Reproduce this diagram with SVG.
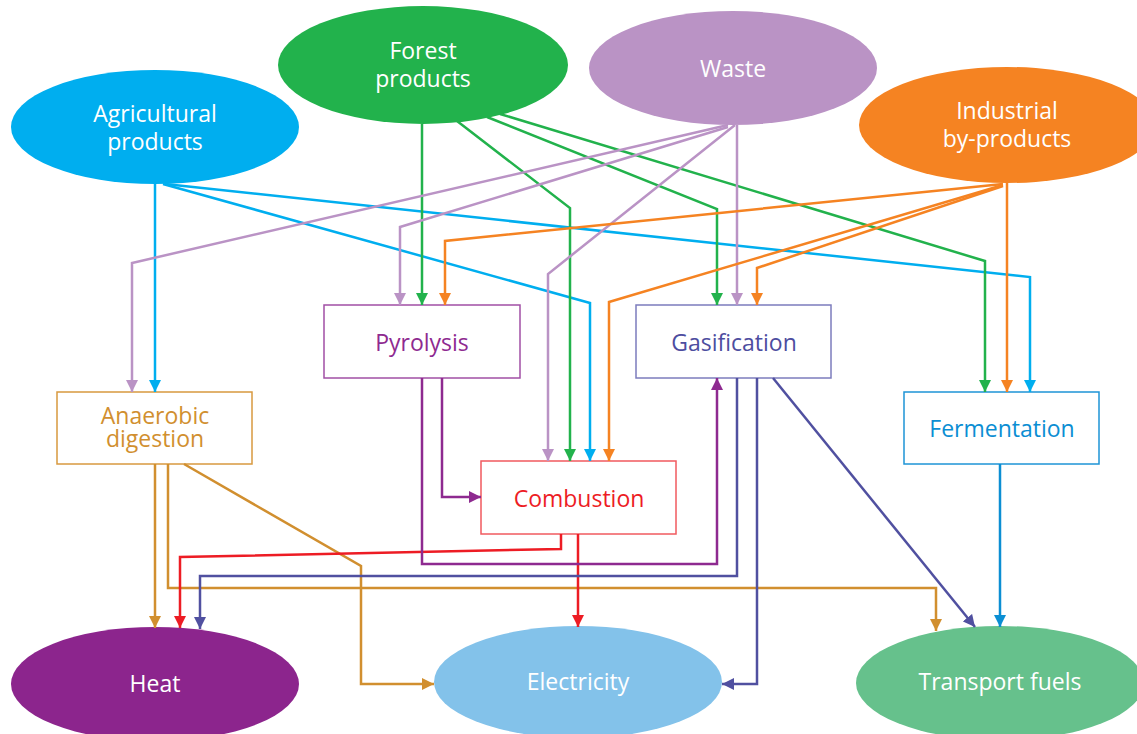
<svg xmlns="http://www.w3.org/2000/svg" width="1137" height="734" viewBox="0 0 1137 734">
<style>
.lbl{font-family:"Open Sans","DejaVu Sans",sans-serif;font-size:23px;text-anchor:middle}
.w{fill:#ffffff}
.box{fill:#ffffff;stroke-width:1.5}
.c{fill:none;stroke-width:2.5}
</style>
<defs>
<marker id="mBlue" markerUnits="userSpaceOnUse" markerWidth="12" markerHeight="12" refX="12" refY="6" orient="auto"><path d="M0,0 L12,6 L0,12 z" fill="#00AEEF"/></marker>
<marker id="mGreen" markerUnits="userSpaceOnUse" markerWidth="12" markerHeight="12" refX="12" refY="6" orient="auto"><path d="M0,0 L12,6 L0,12 z" fill="#22B24C"/></marker>
<marker id="mLilac" markerUnits="userSpaceOnUse" markerWidth="12" markerHeight="12" refX="12" refY="6" orient="auto"><path d="M0,0 L12,6 L0,12 z" fill="#BA93C5"/></marker>
<marker id="mOrange" markerUnits="userSpaceOnUse" markerWidth="12" markerHeight="12" refX="12" refY="6" orient="auto"><path d="M0,0 L12,6 L0,12 z" fill="#F58322"/></marker>
<marker id="mAna" markerUnits="userSpaceOnUse" markerWidth="12" markerHeight="12" refX="12" refY="6" orient="auto"><path d="M0,0 L12,6 L0,12 z" fill="#D18F2F"/></marker>
<marker id="mRed" markerUnits="userSpaceOnUse" markerWidth="12" markerHeight="12" refX="12" refY="6" orient="auto"><path d="M0,0 L12,6 L0,12 z" fill="#ED1C24"/></marker>
<marker id="mPur" markerUnits="userSpaceOnUse" markerWidth="12" markerHeight="12" refX="12" refY="6" orient="auto"><path d="M0,0 L12,6 L0,12 z" fill="#8E2A90"/></marker>
<marker id="mGas" markerUnits="userSpaceOnUse" markerWidth="12" markerHeight="12" refX="12" refY="6" orient="auto"><path d="M0,0 L12,6 L0,12 z" fill="#5050A0"/></marker>
<marker id="mFer" markerUnits="userSpaceOnUse" markerWidth="12" markerHeight="12" refX="12" refY="6" orient="auto"><path d="M0,0 L12,6 L0,12 z" fill="#0B8ED3"/></marker>
</defs>

<g id="agricultural-products">
<ellipse cx="155" cy="127" rx="144" ry="57" fill="#00AEEF"/>
<text class="lbl w" x="155" y="122"><tspan x="155" y="122">Agricultural</tspan><tspan x="155" y="150">products</tspan></text>
</g>
<g id="forest-products">
<ellipse cx="423" cy="65" rx="145" ry="59" fill="#22B24C"/>
<text class="lbl w" x="423" y="59"><tspan x="423" y="59">Forest</tspan><tspan x="423" y="87">products</tspan></text>
</g>
<g id="waste">
<ellipse cx="733" cy="68" rx="144" ry="57" fill="#BA93C5"/>
<text class="lbl w" x="733" y="77">Waste</text>
</g>
<g id="industrial-by-products">
<ellipse cx="1007" cy="125" rx="148" ry="58" fill="#F58322"/>
<text class="lbl w" x="1007" y="119"><tspan x="1007" y="119">Industrial</tspan><tspan x="1007" y="147">by-products</tspan></text>
</g>

<g id="pyrolysis">
<rect class="box" x="324" y="305" width="196" height="73" stroke="#A14FA5"/>
<text class="lbl" x="422" y="351" fill="#8E2A90">Pyrolysis</text>
</g>
<g id="gasification">
<rect class="box" x="636" y="305" width="195" height="73" stroke="#7C7CBD"/>
<text class="lbl" x="734" y="351" fill="#4D4D9F">Gasification</text>
</g>
<g id="anaerobic-digestion">
<rect class="box" x="57" y="392" width="195" height="72" stroke="#D8993F"/>
<text class="lbl" x="155" y="424" fill="#D18F2F"><tspan x="155" y="424">Anaerobic</tspan><tspan x="155" y="447">digestion</tspan></text>
</g>
<g id="combustion">
<rect class="box" x="481" y="461" width="195" height="73" stroke="#F15A5F"/>
<text class="lbl" x="579" y="507" fill="#ED1C24">Combustion</text>
</g>
<g id="fermentation">
<rect class="box" x="904" y="392" width="195" height="72" stroke="#1E94D6"/>
<text class="lbl" x="1002" y="437" fill="#0B8ED3">Fermentation</text>
</g>

<g id="heat">
<ellipse cx="155" cy="684" rx="144" ry="57" fill="#8C258D"/>
<text class="lbl w" x="155" y="692">Heat</text>
</g>
<g id="electricity">
<ellipse cx="578" cy="682" rx="144" ry="56" fill="#83C2EA"/>
<text class="lbl w" x="578" y="690">Electricity</text>
</g>
<g id="transport-fuels">
<ellipse cx="1000" cy="683" rx="144" ry="57" fill="#66C18C"/>
<text class="lbl w" x="1000" y="690">Transport fuels</text>
</g>

<g id="connectors">
<path class="c" stroke="#00AEEF" marker-end="url(#mBlue)" d="M155,184 L155,392"/>
<path class="c" stroke="#00AEEF" marker-end="url(#mBlue)" d="M163,184 L590,303 L590,461"/>
<path class="c" stroke="#00AEEF" marker-end="url(#mBlue)" d="M165,184 L1030,277 L1030,392"/>
<path class="c" stroke="#22B24C" marker-end="url(#mGreen)" d="M422,124 L422,305"/>
<path class="c" stroke="#22B24C" marker-end="url(#mGreen)" d="M457,121 L570,208 L570,461"/>
<path class="c" stroke="#22B24C" marker-end="url(#mGreen)" d="M487,117 L717,209 L717,305"/>
<path class="c" stroke="#22B24C" marker-end="url(#mGreen)" d="M500,114 L985,261 L985,392"/>
<path class="c" stroke="#BA93C5" marker-end="url(#mLilac)" d="M728,125 L132,263 L132,392"/>
<path class="c" stroke="#BA93C5" marker-end="url(#mLilac)" d="M728,127 L400,227 L400,305"/>
<path class="c" stroke="#BA93C5" marker-end="url(#mLilac)" d="M735,125 L548,274 L548,461"/>
<path class="c" stroke="#BA93C5" marker-end="url(#mLilac)" d="M737,125 L737,305"/>
<path class="c" stroke="#F58322" marker-end="url(#mOrange)" d="M1003,184 L445,241 L445,305"/>
<path class="c" stroke="#F58322" marker-end="url(#mOrange)" d="M1003,185 L609,302 L609,461"/>
<path class="c" stroke="#F58322" marker-end="url(#mOrange)" d="M1003,186 L757,268 L757,305"/>
<path class="c" stroke="#F58322" marker-end="url(#mOrange)" d="M1007,183 L1007,392"/>
<path class="c" stroke="#D18F2F" marker-end="url(#mAna)" d="M155,464 L155,628"/>
<path class="c" stroke="#D18F2F" marker-end="url(#mAna)" d="M168,464 L168,588 L936,588 L936,631"/>
<path class="c" stroke="#D18F2F" marker-end="url(#mAna)" d="M184,464 L361,566 L361,684 L434,684"/>
<path class="c" stroke="#ED1C24" marker-end="url(#mRed)" d="M561,534 L561,549 L180,557 L180,628"/>
<path class="c" stroke="#ED1C24" marker-end="url(#mRed)" d="M578,534 L578,627"/>
<path class="c" stroke="#8E2A90" marker-end="url(#mPur)" d="M422,378 L422,564 L717,564 L717,378"/>
<path class="c" stroke="#8E2A90" marker-end="url(#mPur)" d="M442,378 L442,497 L481,497"/>
<path class="c" stroke="#5050A0" marker-end="url(#mGas)" d="M737,378 L737,576 L200,576 L200,629"/>
<path class="c" stroke="#5050A0" marker-end="url(#mGas)" d="M757,378 L757,684 L722,684"/>
<path class="c" stroke="#5050A0" marker-end="url(#mGas)" d="M773,378 L975,627"/>
<path class="c" stroke="#0B8ED3" marker-end="url(#mFer)" d="M1000,464 L1000,627"/>
</g>
</svg>
